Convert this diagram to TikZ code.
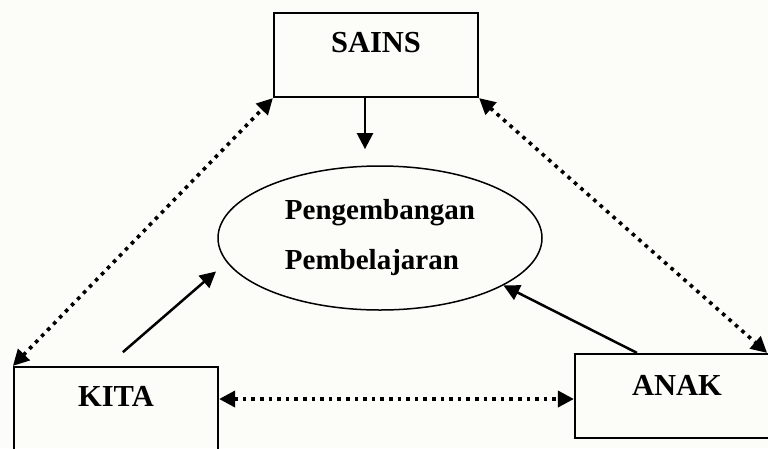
\documentclass[tikz,border=0pt]{standalone}
\usepackage{fontspec}
\setmainfont{Liberation Serif}
\usetikzlibrary{arrows.meta,shapes.geometric,positioning}
\definecolor{paper}{HTML}{FCFDF8}

\begin{document}
\begin{tikzpicture}[%
    x=1pt, y=-1pt,              % pixel-like grid, y runs downwards
    >={Triangle[length=16pt,width=16pt]},
    font=\bfseries\fontsize{29}{50}\selectfont,
    ]
% -------------------------------------------------
% Styles
\tikzset{
box/.style={draw, line width=2.2pt, minimum width=204pt, minimum height=84pt},
word/.style={inner sep=0pt, font=\bfseries\fontsize{30.5}{36}\selectfont},
goal/.style={draw, ellipse, line width=1.5pt, minimum width=324pt, minimum height=144pt, align=left},
% connectors
norm/.style={->, line width=2.5pt},
link/.style={<->, line width=3.6pt, dash pattern=on 3.6pt off 5pt},
}
% -------------------------------------------------
% Page and frame
\fill[paper] (0,0) rectangle (768,448);
\clip (0,0) rectangle (768,448);

% Boxes (KITA and ANAK run off the page)
\node[box] (sains) at (376,55)  {};
\node[box] (kita)  at (116,409) {};
\node[box] (anak)  at (677,396) {};
\node[word, yshift=12pt] (sainstext) at (sains.center) {SAINS};
\node[word, yshift=13pt] (kitatext)  at (kita.center)  {KITA};
\node[word, yshift=11pt] (anaktext)  at (anak.center)  {ANAK};

\node[goal] (belajar) at (380,238) {Pengembangan\\Pembelajaran};

% Solid arrows into the ellipse
\draw[norm] ([xshift=-11pt]sains.south) -- ++(0,51);
\draw[norm, shorten <=21pt, shorten >=14pt] ([xshift=-9pt]kita.north) -- (belajar.189);
\draw[norm] ([xshift=-40pt]anak.north) -- (belajar.339);

% Dotted links between the boxes
\draw[link] (kita.north west) -- (sains.south west);
\draw[link] (sains.south east) -- ([xshift=-13pt]anak.north east);
\draw[link] ([yshift=10pt]kita.east) coordinate (kk) -- (kk -| anak.west);

\end{tikzpicture}
\end{document}
